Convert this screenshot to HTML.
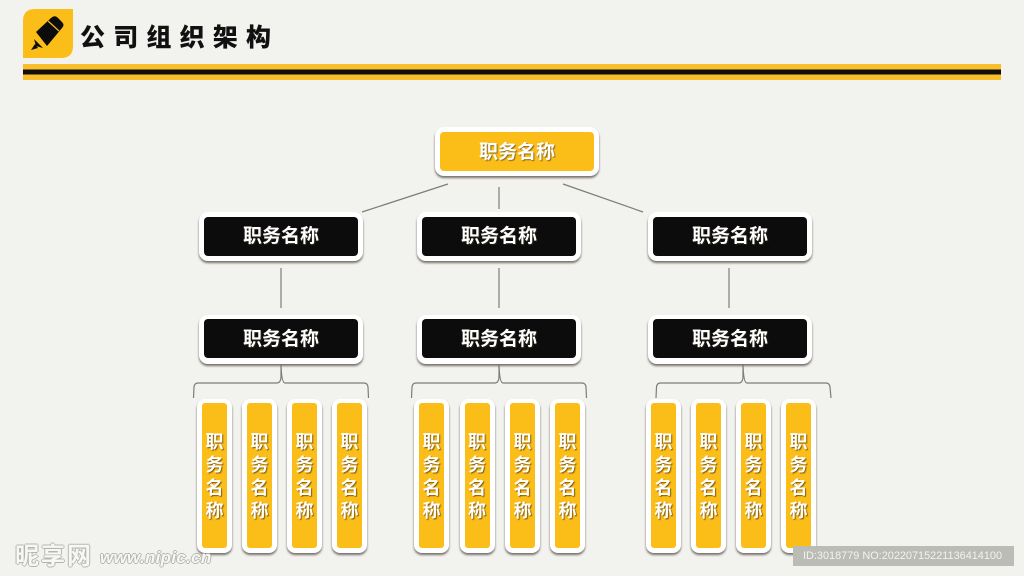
<!DOCTYPE html>
<html lang="zh"><head><meta charset="utf-8"><title>公司组织架构</title>
<style>
html,body{margin:0;padding:0}
#p{position:relative;width:1024px;height:576px;overflow:hidden;background:#f2f2ef;font-family:"Liberation Sans","Noto Sans CJK SC",sans-serif}
.n{position:absolute;box-sizing:border-box;background:#fff;width:164px;height:49px;border-radius:9px;box-shadow:0 2px 2px #77706a}
.n div{position:absolute;left:5px;top:4.500px;width:154px;height:39px;border-radius:4px;background:#0c0c0c;color:#fff;font-weight:700;font-size:19px;line-height:39px;text-align:center;text-shadow:1px 1px 1px rgba(60,50,30,.6)}
.n.y div{background:#fbbd18}
.n.t div{line-height:41px}
.c{position:absolute;top:399px;width:35px;height:154px;background:#fff;border-radius:8px;box-shadow:0 2px 2px #77706a}
.c div{position:absolute;left:5px;top:4px;width:25px;height:145px;background:#fbbd18;border-radius:3px;color:#fff;font-weight:700;font-size:18px;line-height:22.900px;text-align:center;padding-top:28px;box-sizing:border-box;text-shadow:1px 1px 1px rgba(90,60,10,.75)}
svg{position:absolute;left:0;top:0}
</style></head><body><div id="p">
<svg width="1024" height="576" fill="none">
<path d="M23 21Q23 9 35 9H73V46Q73 58 61 58H23Z" fill="#fbbd18"/>
<path d="M36 32L51 18Q54 15 57 17L62 22Q65 25 62 28L47 46Z" fill="#0c0c0c"/>
<path d="M48 21L59 31" stroke="#fbbd18" stroke-width="1.200"/>
<path d="M34 39L43 48L36 46Z" fill="#0c0c0c"/>
<path d="M31 50L35 44L38 48Z" fill="#0c0c0c"/>
<rect x="23" y="64" width="978" height="16" fill="#f9be2c"/><rect x="23" y="69.500" width="978" height="5" fill="#120e08"/>
<g stroke="#7d7d78" stroke-width="1.200">
<path d="M362 212L448 184M499 187V209M563 184L643 212M281 268V308M499 268V308M729 268V308"/>
<path d="M193.500 398L194 387Q194.500 383 198 383H277Q280.500 383 281 377V364Q281.500 383 285 383H364Q367.500 383 368 387L368.500 398"/>
<path d="M411.500 398L412 387Q412.500 383 416 383H495Q498.500 383 499 377V364Q499.500 383 503 383H582Q585.500 383 586 387L586.500 398"/>
<path d="M656 398L656.500 387Q657 383 660.500 383H739Q742.500 383 743 377V364Q743.500 383 747 383H826Q829.500 383 830 387L831 398"/>
</g></svg>
<div style="position:absolute;left:80px;top:21px;font-size:25px;line-height:34px;font-weight:900;color:#111;letter-spacing:8.200px;white-space:nowrap">公司组织架构</div>
<div class="n y t" style="left:435px;top:127px"><div>职务名称</div></div>
<div class="n" style="left:199px;top:212px"><div>职务名称</div></div>
<div class="n" style="left:417px;top:212px"><div>职务名称</div></div>
<div class="n" style="left:648px;top:212px"><div>职务名称</div></div>
<div class="n t" style="left:199px;top:314.500px"><div>职务名称</div></div>
<div class="n t" style="left:417px;top:314.500px"><div>职务名称</div></div>
<div class="n t" style="left:648px;top:314.500px"><div>职务名称</div></div>
<div class="c" style="left:197px"><div>职<br>务<br>名<br>称</div></div>
<div class="c" style="left:242px"><div>职<br>务<br>名<br>称</div></div>
<div class="c" style="left:287px"><div>职<br>务<br>名<br>称</div></div>
<div class="c" style="left:332px"><div>职<br>务<br>名<br>称</div></div>
<div class="c" style="left:414px"><div>职<br>务<br>名<br>称</div></div>
<div class="c" style="left:459.500px"><div>职<br>务<br>名<br>称</div></div>
<div class="c" style="left:505px"><div>职<br>务<br>名<br>称</div></div>
<div class="c" style="left:550px"><div>职<br>务<br>名<br>称</div></div>
<div class="c" style="left:646px"><div>职<br>务<br>名<br>称</div></div>
<div class="c" style="left:691px"><div>职<br>务<br>名<br>称</div></div>
<div class="c" style="left:736px"><div>职<br>务<br>名<br>称</div></div>
<div class="c" style="left:781px"><div>职<br>务<br>名<br>称</div></div>
<div style="position:absolute;left:15px;top:545px;font-size:24px;line-height:24px;font-weight:700;color:#f7f7f5;letter-spacing:2px;white-space:nowrap;text-shadow:-1px 0 #b5b5b0,1px 0 #b5b5b0,0 -1px #b5b5b0,0 1px #b5b5b0">昵享网</div>
<div style="position:absolute;left:100px;top:549px;font-size:17px;line-height:18px;font-weight:700;font-style:italic;color:#f7f7f5;letter-spacing:.3px;white-space:nowrap;text-shadow:-1px 0 #b5b5b0,1px 0 #b5b5b0,0 -1px #b5b5b0,0 1px #b5b5b0">www.nipic.cn</div>
<div style="position:absolute;left:793px;top:546px;width:221px;height:20px;background:#bcbcb7;color:#f2f2ef;font-size:10.900px;line-height:20px;padding-left:10px;box-sizing:border-box;white-space:nowrap">ID:3018779 NO:20220715221136414100</div>
</div></body></html>
